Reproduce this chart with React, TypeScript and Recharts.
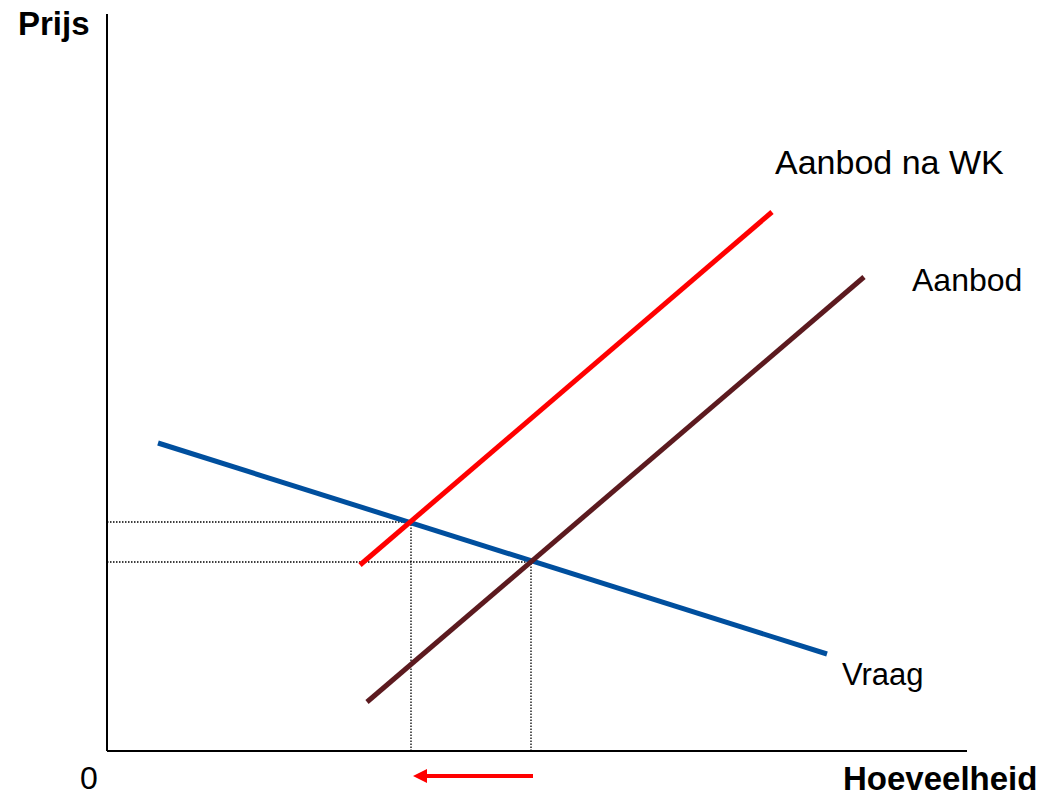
import React from 'react';
import { LineChart, Line, XAxis, YAxis, ReferenceLine } from 'recharts';

// plot units: quantity 0..860, price 0..737
const vraag = [{ x: 51, y: 308 }, { x: 720, y: 97 }];
const aanbod = [{ x: 260, y: 49 }, { x: 757, y: 474 }];
const aanbodNaWK = [{ x: 253, y: 186 }, { x: 665, y: 539 }];

// equilibria: after WK, before WK
const evenwichtQ = [304, 424];
const evenwichtP = [229, 189];

const pijlVan = 426;
const pijlNaar = 306;

const labelFont = '"Liberation Sans", Arial, sans-serif';

const Arrow = (props: any) => {
    const { x1, y1, x2, y2 } = props;
    const dir = x2 < x1 ? 1 : -1;
    return (
        <g>
            <line x1={x1} y1={y1} x2={x2 + dir * 10} y2={y2} stroke="#ff0000" strokeWidth={4} />
            <polygon
                points={`${x2},${y2} ${x2 + dir * 14},${y2 - 7} ${x2 + dir * 14},${y2 + 7}`}
                fill="#ff0000"
            />
        </g>
    );
};

const Label = ({ text, left, top, size = 32, bold }: { text: string; left: number; top: number; size?: number; bold?: boolean }) => (
    <div
        style={{
            position: 'absolute',
            left,
            top,
            fontFamily: labelFont,
            fontSize: size,
            lineHeight: size + 'px',
            fontWeight: bold ? 700 : 400,
            color: '#000',
            whiteSpace: 'nowrap',
        }}
    >
        {text}
    </div>
);

export default function App() {
    return (
        <div style={{ position: 'relative', width: 1034, height: 787 }}>
            <LineChart width={1034} height={779} margin={{ top: 6, right: 75, bottom: 36, left: 99 }}>
                <XAxis type="number" dataKey="x" domain={[0, 860]} hide allowDataOverflow />
                <YAxis type="number" domain={[0, 737]} hide allowDataOverflow />
                <ReferenceLine x={0} stroke="#000" strokeWidth={2} />
                <ReferenceLine y={0} stroke="#000" strokeWidth={2} />
                {evenwichtQ.map((q, i) => (
                    <ReferenceLine
                        key={'h' + i}
                        segment={[{ x: 0, y: evenwichtP[i] }, { x: q, y: evenwichtP[i] }]}
                        stroke="#000"
                        strokeWidth={1.3}
                        strokeDasharray="1.5 1.5"
                    />
                ))}
                {evenwichtQ.map((q, i) => (
                    <ReferenceLine
                        key={'v' + i}
                        segment={[{ x: q, y: 0 }, { x: q, y: evenwichtP[i] }]}
                        stroke="#000"
                        strokeWidth={1.3}
                        strokeDasharray="1.5 1.5"
                    />
                ))}
                <Line data={vraag} dataKey="y" stroke="#004f9e" strokeWidth={5} dot={false} isAnimationActive={false} />
                <Line data={aanbod} dataKey="y" stroke="#5c1a1f" strokeWidth={5} dot={false} isAnimationActive={false} />
                <Line data={aanbodNaWK} dataKey="y" stroke="#ff0000" strokeWidth={5} dot={false} isAnimationActive={false} />
                <ReferenceLine
                    segment={[{ x: pijlVan, y: -25 }, { x: pijlNaar, y: -25 }]}
                    ifOverflow="visible"
                    shape={Arrow}
                />
            </LineChart>
            <Label text="Prijs" left={10} top={-1} size={33} bold />
            <Label text="0" left={72} top={754} />
            <Label text="Hoeveelheid" left={835} top={754} size={33} bold />
            <Label text="Aanbod na WK" left={767} top={137} size={34} />
            <Label text="Aanbod" left={904} top={256} />
            <Label text="Vraag" left={834} top={651} size={31} />
        </div>
    );
}
